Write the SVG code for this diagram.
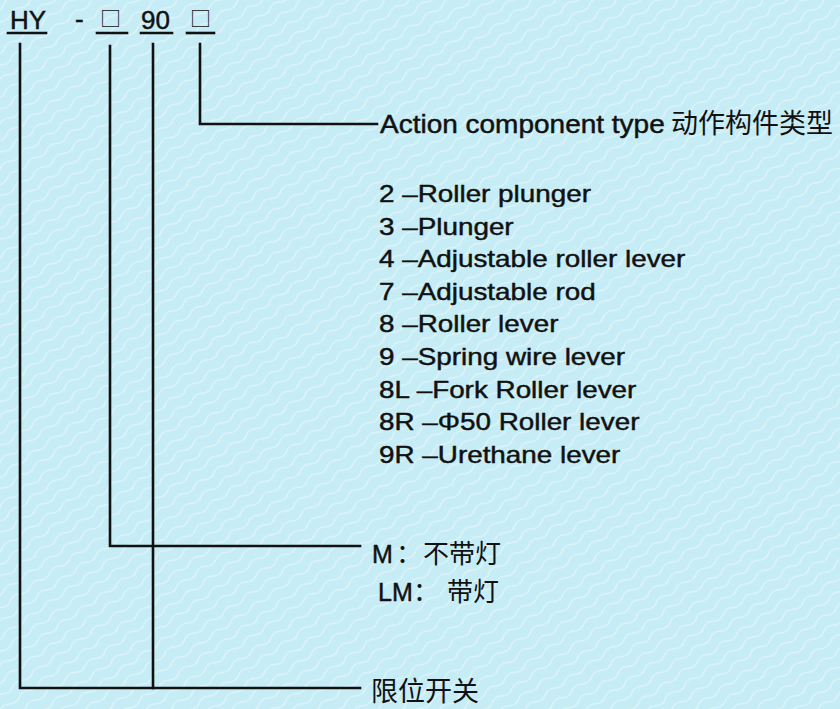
<svg xmlns="http://www.w3.org/2000/svg" width="840" height="709" viewBox="0 0 840 709">
  <defs>
    <style>
      .t { font-family: "Liberation Sans", Arial, "Noto Sans CJK SC", sans-serif; fill: #111; stroke: #111; stroke-width: 0.45; }
      .cjk { font-family: "Noto Sans CJK SC", "Liberation Sans", sans-serif; fill: #111; }
      .ln { stroke: #111; stroke-width: 2.6; fill: none; stroke-linecap: square; }
    </style>
    <pattern id="wave" width="24" height="12" patternUnits="userSpaceOnUse" patternTransform="rotate(-35)">
      <path d="M0 6 Q6 2 12 6 T24 6" fill="none" stroke="#e4f6fa" stroke-width="1.2"/>
    </pattern>
  </defs>
  <rect width="840" height="709" fill="#c6ecf5"/>
  <rect width="840" height="709" fill="url(#wave)"/>

  <g id="code">
    <text class="t" x="10" y="29" font-size="26">HY</text>
    <text class="t" x="75" y="28" font-size="26">-</text>
    <text class="cjk" x="100" y="26" font-size="21">□</text>
    <text class="t" x="141" y="29" font-size="26">90</text>
    <text class="cjk" x="190" y="26" font-size="21">□</text>
    <line class="ln" x1="8" y1="33" x2="46" y2="33"/>
    <line class="ln" x1="97" y1="33" x2="127" y2="33"/>
    <line class="ln" x1="141" y1="33" x2="172" y2="33"/>
    <line class="ln" x1="187" y1="33" x2="214" y2="33"/>
  </g>

  <g id="connectors">
    <polyline class="ln" points="200,44 200,124 377,124"/>
    <polyline class="ln" points="110,46 110,546 360,546"/>
    <line class="ln" x1="153" y1="44" x2="153" y2="688"/>
    <polyline class="ln" points="20,44 20,688 360,688"/>
  </g>

  <g id="action">
    <g transform="translate(380,133) scale(1.12,1)">
      <text class="t" x="0" y="0" font-size="25">Action component type</text>
    </g>
    <text class="cjk" x="671" y="133" font-size="27">动作构件类型</text>
  </g>

  <g id="types" transform="translate(379,0) scale(1.16,1)">
    <text class="t" font-size="24" x="0" y="202">2 –Roller plunger</text>
    <text class="t" font-size="24" x="0" y="234.6">3 –Plunger</text>
    <text class="t" font-size="24" x="0" y="267.2">4 –Adjustable roller lever</text>
    <text class="t" font-size="24" x="0" y="299.8">7 –Adjustable rod</text>
    <text class="t" font-size="24" x="0" y="332.4">8 –Roller lever</text>
    <text class="t" font-size="24" x="0" y="365">9 –Spring wire lever</text>
    <text class="t" font-size="24" x="0" y="397.6">8L –Fork Roller lever</text>
    <text class="t" font-size="24" x="0" y="430.2">8R –Φ50 Roller lever</text>
    <text class="t" font-size="24" x="0" y="462.8">9R –Urethane lever</text>
  </g>

  <g id="lamp">
    <text class="t" x="372" y="563" font-size="25">M</text>
    <text class="cjk" x="396" y="563" font-size="26">：</text>
    <text class="cjk" x="423" y="563" font-size="26">不带灯</text>
    <text class="t" x="378" y="601" font-size="25">LM</text>
    <text class="cjk" x="413" y="601" font-size="26">：</text>
    <text class="cjk" x="447" y="601" font-size="26">带灯</text>
  </g>

  <g id="switch">
    <text class="cjk" x="371" y="701" font-size="27">限位开关</text>
  </g>
</svg>
